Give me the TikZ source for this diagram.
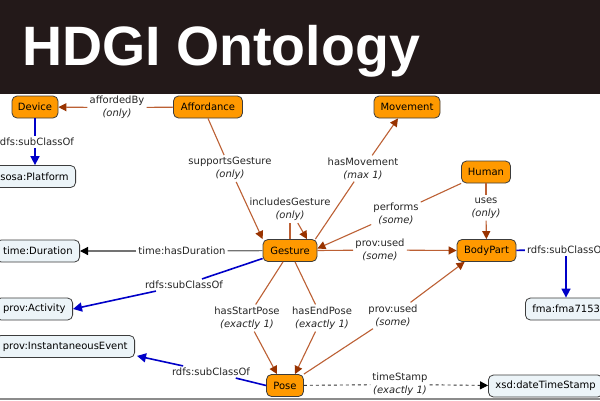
\documentclass[tikz,border=0pt]{standalone}
\usepackage{fontspec}
\setmainfont{DejaVu Sans}
\newfontfamily\titlefont{Liberation Sans}
\usetikzlibrary{arrows.meta,calc}
\definecolor{hdr}{RGB}{35,25,25}
\definecolor{orng}{RGB}{255,153,0}
\definecolor{lite}{RGB}{236,244,248}
\definecolor{edgebrown}{RGB}{188,96,52}
\definecolor{tipbrown}{RGB}{153,51,0}
\definecolor{blue0}{RGB}{0,0,200}
\definecolor{bordr}{RGB}{60,60,60}
\tikzset{
  onode/.style={draw=bordr, fill=orng, rounded corners=5pt, line width=0.8pt,
    minimum height=22pt, inner xsep=2pt, inner ysep=0pt, font=\fontsize{10}{12}\selectfont},
  lnode/.style={draw=bordr, fill=lite, rounded corners=5pt, line width=0.8pt,
    minimum height=22pt, inner xsep=7pt, inner ysep=0pt, font=\fontsize{10}{12}\selectfont},
  lbl/.style={align=center, inner sep=2pt, text=black!85, font=\fontsize{10}{13}\selectfont},
  bedge/.style={draw=edgebrown, line width=1.1pt},
  barrow/.style={bedge, -{Triangle[length=8pt,width=8pt,color=tipbrown]}},
  bline/.style={draw=blue0, line width=1.6pt},
  barrowb/.style={bline, -{Triangle[length=9pt,width=9pt]}},
  gline/.style={draw=black!55, line width=1.2pt},
  garrow/.style={gline, -{Triangle[length=8pt,width=8pt,color=black]}},
  dline/.style={draw=black!80, dashed, line width=0.9pt},
  darrow/.style={dline, -{Triangle[length=8pt,width=8pt,color=black]}}
}
\begin{document}
\begin{tikzpicture}[x=1pt,y=-1pt]
\useasboundingbox (0,0) rectangle (600,400);
\clip (0,0) rectangle (600,400);
\fill[white] (0,0) rectangle (600,400);
% header
\fill[hdr] (0,0) rectangle (600,94);
\node[anchor=base west, inner sep=0pt, text=white, font=\titlefont\bfseries\fontsize{55.5}{60}\selectfont] (title) at (22,65) {HDGI Ontology};
\draw[black!45, line width=1.5pt] (0,398.8) -- (600,398.8);

% class nodes
\node[onode, minimum width=46pt] (Device) at (35,107) {Device};
\node[onode, minimum width=69pt] (Affordance) at (208,107) {Affordance};
\node[onode, minimum width=66pt] (Movement) at (407,107) {Movement};
\node[onode, minimum width=49pt] (Human) at (486,172) {Human};
\node[onode, minimum width=59pt] (BodyPart) at (486.5,250.5) {BodyPart};
\node[onode, minimum width=54pt] (Gesture) at (290,250.5) {Gesture};
\node[onode, minimum width=37pt] (Pose) at (285,385.5) {Pose};

% external nodes
\node[lnode, anchor=east] (Platform) at (76,176.5) {sosa:Platform};
\node[lnode, anchor=east] (Duration) at (80,251) {time:Duration};
\node[lnode, anchor=east] (Activity) at (73,309) {prov:Activity};
\node[lnode, anchor=east] (IE) at (135,346.5) {prov:InstantaneousEvent};
\node[lnode, anchor=west] (fma) at (525,309) {fma:fma7153};
\node[lnode, anchor=west] (xsd) at (488,386) {xsd:dateTimeStamp};

% labels
\node[lbl] (lAB) at (117,107.5) {affordedBy\\\textit{(only)}};
\node[lbl] (lSP) at (35,142) {rdfs:subClassOf};
\node[lbl] (lSG) at (230,168.5) {supportsGesture\\\textit{(only)}};
\node[lbl] (lHM) at (363,168.5) {hasMovement\\\textit{(max 1)}};
\node[lbl] (lIG) at (290,209.5) {includesGesture\\\textit{(only)}};
\node[lbl] (lPF) at (396,213.5) {performs\\\textit{(some)}};
\node[lbl] (lPU1) at (380,250) {prov:used\\\textit{(some)}};
\node[lbl] (lUS) at (486,208) {uses\\\textit{(only)}};
\node[lbl] (lBF) at (566,250) {rdfs:subClassOf};
\node[lbl] (lHD) at (182,251) {time:hasDuration};
\node[lbl] (lGA) at (184,285) {rdfs:subClassOf};
\node[lbl] (lSTP) at (247,318) {hasStartPose\\\textit{(exactly 1)}};
\node[lbl] (lEP) at (322,318) {hasEndPose\\\textit{(exactly 1)}};
\node[lbl] (lPU2) at (393,315.5) {prov:used\\\textit{(some)}};
\node[lbl] (lPI) at (211,372) {rdfs:subClassOf};
\node[lbl] (lTS) at (400,384.5) {timeStamp\\\textit{(exactly 1)}};

% edges
\draw[bedge] (Affordance) -- (lAB);
\draw[barrow] (lAB) -- (Device);

\draw[bline] (Device) -- (lSP);
\draw[barrowb] (lSP) -- (lSP |- Platform.north);

\draw[bedge] (Affordance.south) -- (lSG);
\draw[barrow] (lSG) -- (Gesture.north west);

\draw[bedge] ($(Gesture.north east)+(-2,0)$) -- (lHM);
\draw[barrow] (lHM) -- ($(Movement.south)+(-9,0)$);

\draw[bedge] (Gesture.north) -- (lIG);
\draw[barrow] (lIG) -- ($(Gesture.north)+(17,0)$);

\draw[bedge] (Human.south west) -- (lPF);
\draw[barrow] (lPF) -- ($(Gesture.east)+(0,-2)$);

\draw[bedge] (Gesture.east) -- (lPU1);
\draw[barrow] (lPU1) -- (BodyPart.west);

\draw[bedge] (Human) -- (lUS);
\draw[barrow] (lUS) -- (BodyPart);

\draw[bline] (BodyPart) -- (lBF);
\draw[barrowb] (lBF) -- (lBF |- fma.north);

\draw[gline] (Gesture) -- (lHD);
\draw[garrow] (lHD) -- (Duration);

\draw[bline] ($(Gesture.west)+(0,8)$) -- (lGA);
\draw[barrowb] (lGA) -- (Activity.east);

\draw[bedge] ($(Gesture.south)+(-7,0)$) -- (lSTP);
\draw[barrow] (lSTP) -- ($(Pose.north)+(-8,0)$);

\draw[bedge] ($(Gesture.south)+(5,0)$) -- (lEP);
\draw[barrow] (lEP) -- ($(Pose.north)+(10,0)$);

\draw[bedge] (Pose.north east) -- (lPU2);
\draw[barrow] (lPU2) -- ($(BodyPart.south west)+(8,0)$);

\draw[bline] (Pose.west) -- (lPI);
\draw[barrowb] (lPI) -- ($(IE.south east)+(2,-2)$);

\draw[dline] (Pose) -- (lTS);
\draw[darrow] (lTS) -- (xsd);
\end{tikzpicture}
\end{document}
